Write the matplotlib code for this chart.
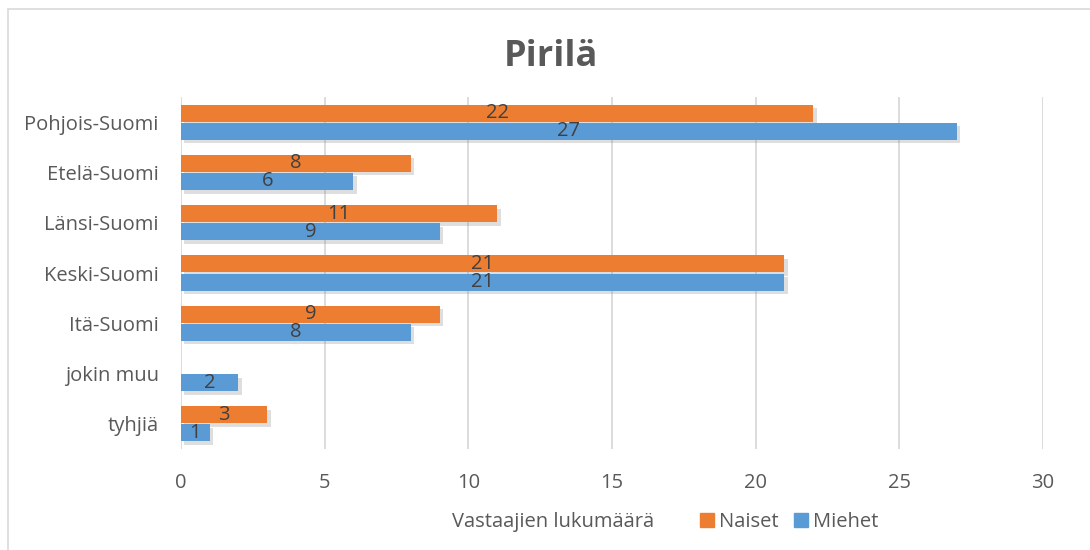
import matplotlib
matplotlib.use("Agg")
import matplotlib.pyplot as plt
import matplotlib.patheffects as pe
from matplotlib.patches import Rectangle
from matplotlib.lines import Line2D
import numpy as np

categories = ["Pohjois-Suomi", "Etelä-Suomi", "Länsi-Suomi", "Keski-Suomi",
              "Itä-Suomi", "jokin muu", "tyhjiä"]
naiset = [22, 8, 11, 21, 9, 0, 3]
miehet = [27, 6, 9, 21, 8, 2, 1]
xticks = [0, 5, 10, 15, 20, 25, 30]

plt.rcParams['font.family'] = ['Open Sans', 'DejaVu Sans']
TXT = "#595959"
ORANGE = "#ED7D31"
BLUE = "#5B9BD5"
FS = 14.5

fig = plt.figure(figsize=(10.9, 5.5), dpi=100)
W, H = 1090, 550
# chart border
fig.add_artist(Rectangle((8 / W, -0.1), 1.2, (550 - 9) / H + 0.1, transform=fig.transFigure,
                         fill=False, edgecolor="#D9D9D9", linewidth=1.2))

ax = fig.add_axes([181 / W, 1 - 449 / H, (1043 - 181) / W, (449 - 97) / H])
y = np.arange(len(categories))
h = 0.34
shadow = [pe.SimplePatchShadow(offset=(2.5, -2.5), alpha=0.25, shadow_rgbFace="#7f7f7f"), pe.Normal()]

bn = ax.barh(y - h / 2 - 0.01, naiset, height=h, color=ORANGE, zorder=3)
bm = ax.barh(y + h / 2 + 0.01, miehet, height=h, color=BLUE, zorder=3)
for b in list(bn) + list(bm):
    if b.get_width() > 0:
        b.set_path_effects(shadow)

for bars, vals in ((bn, naiset), (bm, miehet)):
    for b, v in zip(bars, vals):
        if v > 0:
            ax.text(v / 2, b.get_y() + b.get_height() / 2, str(v), ha="center", va="center",
                    fontsize=FS, color="#404040", zorder=5)

ax.set_ylim(len(categories) - 0.5, -0.5)
ax.set_xlim(0, 30)
ax.set_xticks(xticks)
ax.set_xticklabels([str(t) for t in xticks])
ax.set_yticks(y)
ax.set_yticklabels(categories)
ax.tick_params(axis="both", length=0, labelsize=FS, colors=TXT)
ax.tick_params(axis="x", pad=17)
ax.tick_params(axis="y", pad=16)
for s in ax.spines.values():
    s.set_visible(False)
ax.grid(axis="x", color="#D9D9D9", linewidth=1.3, zorder=0)
ax.set_axisbelow(True)

fig.text(551 / W, 1 - 57 / H, "Pirilä", ha="center", va="center", fontsize=26,
         fontweight="bold", color=TXT)
fig.text(553 / W, 1 - 522 / H, "Vastaajien lukumäärä", ha="center", va="center",
         fontsize=FS, color=TXT)

handles = [Line2D([], [], marker="s", linestyle="", markersize=10, color=ORANGE),
           Line2D([], [], marker="s", linestyle="", markersize=10, color=BLUE)]
fig.legend(handles, ["Naiset", "Miehet"], loc="center left", bbox_to_anchor=(697 / W, 1 - 522 / H),
           ncol=2, frameon=False, fontsize=FS, labelcolor=TXT, handletextpad=0.1,
           columnspacing=0.6, handlelength=1.0, borderaxespad=0, borderpad=0)

fig.savefig("out.png", dpi=100)
